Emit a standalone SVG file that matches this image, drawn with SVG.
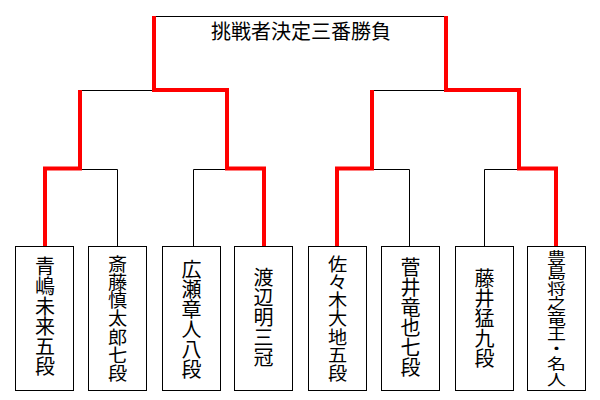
<svg xmlns="http://www.w3.org/2000/svg" width="600" height="400" viewBox="0 0 600 400">
<style>
.bg{fill:#fff}
.box{fill:#fff;stroke:#000;stroke-width:1}
.blk{fill:none;stroke:#000;stroke-width:1}
.red{fill:none;stroke:#f00;stroke-width:4;stroke-linejoin:miter}
text{font-family:"Noto Sans CJK JP","Noto Sans CJK SC",sans-serif;font-size:20px;fill:#000;text-anchor:middle}
text.c7{font-size:18.3px}
text.c9{font-size:15.2px}
</style>
<rect class="bg" x="0" y="0" width="600" height="400"/>
<g id="connectors">
<path class="blk" d="M154,16.5 H446.5"/>
<path class="blk" d="M80,90.5 H154 M372,90.5 H446"/>
<path class="blk" d="M80,169.5 H117.5 V246 M193.5,169.5 H227 M193.5,169.5 V246 M372,169.5 H409.5 V246 M484.5,169.5 H519 M484.5,169.5 V246"/>
<path class="red" d="M154,16 V90 H227 V168.5 H264 V246"/>
<path class="red" d="M80,90 V168.5 H45 V246"/>
<path class="red" d="M446,16 V90 H519 V168.5 H556 V246"/>
<path class="red" d="M372,90 V168.5 H337 V246"/>
</g>
<g id="title">
<text x="301" y="38.5">挑戦者決定三番勝負</text>
</g>
<g id="p1">
<rect class="box" x="15.5" y="246.5" width="58" height="144"/>
<text transform="translate(45,317)"><tspan x="0" y="-43">青</tspan><tspan x="0" y="-23">嶋</tspan><tspan x="0" y="-3">未</tspan><tspan x="0" y="17">来</tspan><tspan x="0" y="37">五</tspan><tspan x="0" y="57">段</tspan></text>
</g>
<g id="p2">
<rect class="box" x="88.5" y="246.5" width="58" height="144"/>
<text class="c7" transform="translate(117.5,319) scale(1.05,1)"><tspan x="0" y="-48.5">斎</tspan><tspan x="0" y="-30.2">藤</tspan><tspan x="0" y="-11.9">慎</tspan><tspan x="0" y="6.4">太</tspan><tspan x="0" y="24.7">郎</tspan><tspan x="0" y="43">七</tspan><tspan x="0" y="61.3">段</tspan></text>
</g>
<g id="p3">
<rect class="box" x="162.5" y="246.5" width="58" height="144"/>
<text transform="translate(191.5,319.5)"><tspan x="0" y="-43">広</tspan><tspan x="0" y="-23">瀬</tspan><tspan x="0" y="-3">章</tspan><tspan x="0" y="17">人</tspan><tspan x="0" y="37">八</tspan><tspan x="0" y="57">段</tspan></text>
</g>
<g id="p4">
<rect class="box" x="234.5" y="246.5" width="58" height="144"/>
<text transform="translate(263.5,318)"><tspan x="0" y="-33">渡</tspan><tspan x="0" y="-13">辺</tspan><tspan x="0" y="7">明</tspan><tspan x="0" y="27">三</tspan><tspan x="0" y="47">冠</tspan></text>
</g>
<g id="p5">
<rect class="box" x="308.5" y="246.5" width="58" height="144"/>
<text class="c7" transform="translate(337.5,319) scale(1.05,1)"><tspan x="0" y="-48.5">佐</tspan><tspan x="0" y="-30.2">々</tspan><tspan x="0" y="-11.9">木</tspan><tspan x="0" y="6.4">大</tspan><tspan x="0" y="24.7">地</tspan><tspan x="0" y="43">五</tspan><tspan x="0" y="61.3">段</tspan></text>
</g>
<g id="p6">
<rect class="box" x="381.5" y="246.5" width="58" height="144"/>
<text transform="translate(410.5,318)"><tspan x="0" y="-43">菅</tspan><tspan x="0" y="-23">井</tspan><tspan x="0" y="-3">竜</tspan><tspan x="0" y="17">也</tspan><tspan x="0" y="37">七</tspan><tspan x="0" y="57">段</tspan></text>
</g>
<g id="p7">
<rect class="box" x="455.5" y="246.5" width="58" height="144"/>
<text transform="translate(484.5,319)"><tspan x="0" y="-33">藤</tspan><tspan x="0" y="-13">井</tspan><tspan x="0" y="7">猛</tspan><tspan x="0" y="27">九</tspan><tspan x="0" y="47">段</tspan></text>
</g>
<g id="p8">
<rect class="box" x="527.5" y="246.5" width="58" height="144"/>
<text class="c9" transform="translate(556.5,318.5) scale(1.25,1)"><tspan x="0" y="-55.4">豊</tspan><tspan x="0" y="-40.2">島</tspan><tspan x="0" y="-25">将</tspan><tspan x="0" y="-9.8">之</tspan><tspan x="0" y="5.4">竜</tspan><tspan x="0" y="20.6">王</tspan><tspan x="0" y="35.8">・</tspan><tspan x="0" y="51">名</tspan><tspan x="0" y="66.2">人</tspan></text>
</g>
</svg>
